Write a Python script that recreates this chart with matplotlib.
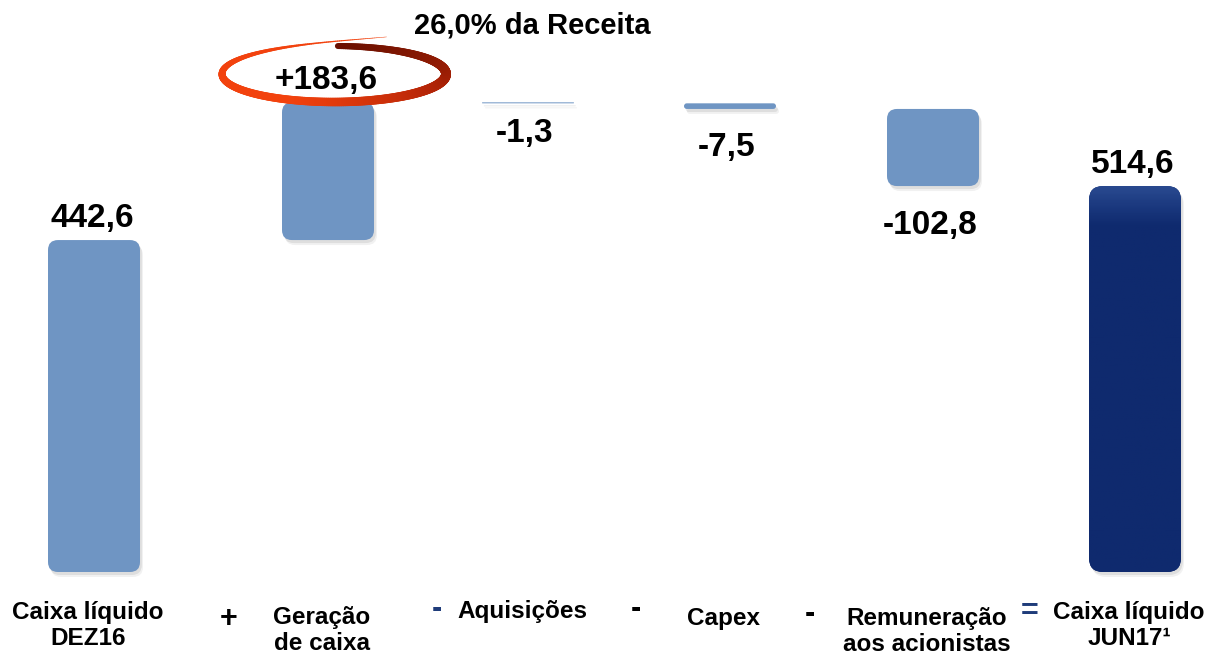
import numpy as np
import matplotlib
matplotlib.use("Agg")
import matplotlib.pyplot as plt
from matplotlib.patches import FancyBboxPatch
from matplotlib.collections import LineCollection
from matplotlib.colors import LinearSegmentedColormap, to_rgb

plt.rcParams['font.family'] = ['Liberation Sans', 'DejaVu Sans']
plt.rcParams['font.weight'] = 'bold'

# data
categories = ["Caixa líquido\nDEZ16", "Geração\nde caixa", "Aquisições", "Capex",
              "Remuneração\naos acionistas", "Caixa líquido\nJUN17¹"]
values = [442.6, 183.6, -1.3, -7.5, -102.8, 514.6]
value_labels = ["442,6", "+183,6", "-1,3", "-7,5", "-102,8", "514,6"]
is_total = [True, False, False, False, False, True]
operators = ["+", "-", "-", "-", "="]
note = "26,0% da Receita"

# layout (figure is 1217 x 652 px, x axis in pixels)
W, H = 1217, 652
base_px = 572          # pixel row of value 0
scale = 0.75           # pixels per unit
bar_x = [94, 328, 528, 730, 933, 1135]
bar_w = 92
op_x = [229, 437, 636, 810, 1030]
op_y = [619, 609, 609, 614, 612]
op_col = ["black", "#1F3C7A", "black", "black", "#1F3C7A"]
cat_y = [611, 616, 610, 617, 617, 611]   # centre of first line, px
light = "#6F95C3"
navy = "#0F2A6E"


def py(ypx):
    # pixel row -> data value
    return (base_px - ypx) / scale


fig = plt.figure(figsize=(W / 100, H / 100), dpi=100)
ax = fig.add_axes([0, 0, 1, 1])
ax.set_xlim(0, W)
ax.set_ylim(py(H), py(0))
ax.axis('off')

# waterfall bottoms/tops
running = 0.0
spans = []
for v, tot in zip(values, is_total):
    if tot:
        lo, hi = 0.0, v
        running = v
    else:
        lo, hi = sorted([running, running + v])
        running += v
    spans.append((lo, hi))

aspect = 1 / scale
for i, (lo, hi) in enumerate(spans):
    h = hi - lo
    x0 = bar_x[i] - bar_w / 2
    dark = is_total[i] and i > 0
    r = min(14 if dark else 10, h * scale / 2)
    style = "round,pad=0,rounding_size=%.3f" % r
    # soft shadow
    for k, a in [(5, 0.08), (3, 0.12)]:
        sh = FancyBboxPatch((x0 + k * 0.6, lo - k / scale), bar_w, h, boxstyle=style,
                            mutation_aspect=aspect, fc="#555555", ec="none", alpha=a, zorder=1)
        ax.add_patch(sh)
    col = navy if dark else light
    p = FancyBboxPatch((x0, lo), bar_w, h, boxstyle=style, mutation_aspect=aspect,
                       fc=col, ec="none", zorder=2)
    ax.add_patch(p)
    if dark:
        # slight gloss near the top of the closing bar
        grad = np.linspace(0, 1, 200).reshape(-1, 1)
        cm = LinearSegmentedColormap.from_list(
            "g", [(0, navy), (0.9, navy), (0.95, "#1A387E"), (1, "#29498F")])
        im = ax.imshow(grad, cmap=cm, extent=(x0, x0 + bar_w, lo, hi), origin='lower',
                       aspect='auto', zorder=3)
        im.set_clip_path(p)

    # value labels
    if values[i] >= 0:
        ax.annotate(value_labels[i], (bar_x[i], hi), xytext=(-2, 22), textcoords='offset pixels',
                    ha='center', va='center', fontsize=24, fontweight='bold', zorder=6)
    else:
        off = -30 if abs(values[i]) < 5 else -39
        ax.annotate(value_labels[i], (bar_x[i], lo), xytext=(-3, off), textcoords='offset pixels',
                    ha='center', va='center', fontsize=24, fontweight='bold', zorder=6)

# category labels
for i, c in enumerate(categories):
    ax.text(bar_x[i] - 6, py(cat_y[i] - 10), c, ha='center', va='top', fontsize=17.5,
            fontweight='bold', linespacing=1.15)
for i, o in enumerate(operators):
    ax.text(op_x[i], py(op_y[i]), o, ha='center', va='center', fontsize=22,
            fontweight='bold', color=op_col[i])

# note above generation bar
ax.text(532, py(25), note, ha='center', va='center', fontsize=21, fontweight='bold')

# red swoosh around "+183,6"
cx, cy, a = 334, 74, 112
th = np.radians(np.linspace(62, 448, 400))
deg = np.degrees(th)
b = 28 + 14 * np.exp(-(deg - 62) / 25)
xs = cx + a * np.cos(th)
ys = cy - b * np.sin(th)
pts = np.column_stack([xs, py(ys)])
segs = np.stack([pts[:-1], pts[1:]], axis=1)
mid = (deg[:-1] + deg[1:]) / 2
lw_px = np.interp(mid, [62, 100, 180, 300, 360, 420, 448], [0.4, 1.5, 7, 9, 10, 7, 6])
c0, c1, c2 = np.array(to_rgb("#F2420E")), np.array(to_rgb("#B52507")), np.array(to_rgb("#6A1000"))
t = np.interp(mid, [62, 250, 330, 448], [0, 0, 1, 2])
cols = [tuple(c0 + (c1 - c0) * v) if v <= 1 else tuple(c1 + (c2 - c1) * (v - 1)) for v in t]
lc = LineCollection(segs, linewidths=lw_px * 0.72, colors=cols, capstyle='round', zorder=5)
ax.add_collection(lc)

fig.savefig("out.png", dpi=100)
